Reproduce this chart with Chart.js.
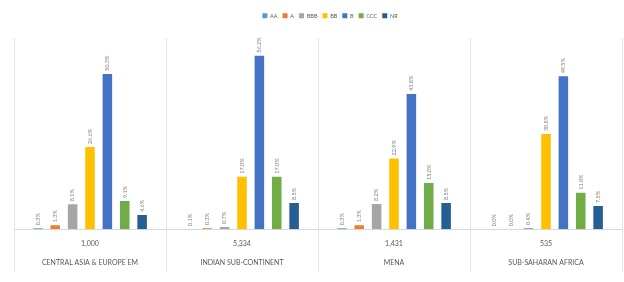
<!DOCTYPE html>
<html>
<head>
<meta charset="utf-8">
<script src="https://cdn.jsdelivr.net/npm/chart.js@4/dist/chart.umd.min.js"></script>
<style>
html,body{margin:0;padding:0;background:#fff;}
#wrap{width:624px;height:282px;position:relative;}
</style>
</head>
<body>
<div id="wrap"><canvas id="c" width="624" height="282"></canvas></div>
<script>
const counts = ['1,000', '5,334', '1,431', '535'];
const regions = ['CENTRAL ASIA & EUROPE EM', 'INDIAN SUB-CONTINENT', 'MENA', 'SUB-SAHARAN AFRICA'];
const ratings = ['AA', 'A', 'BBB', 'BB', 'B', 'CCC', 'NR'];
const colors = ['#5B9BD5', '#ED7D31', '#A5A5A5', '#FFC000', '#4472C4', '#70AD47', '#255E91'];
const seriesAA  = [0.3, 0.1, 0.3, 0.0];
const seriesA   = [1.3, 0.3, 1.3, 0.0];
const seriesBBB = [8.1, 0.7, 8.2, 0.4];
const seriesBB  = [26.6, 17.0, 22.9, 30.8];
const seriesB   = [50.3, 56.2, 43.8, 49.5];
const seriesCCC = [9.1, 17.0, 15.0, 11.8];
const seriesNR  = [4.6, 8.5, 8.5, 7.5];
const allSeries = [seriesAA, seriesA, seriesBBB, seriesBB, seriesB, seriesCCC, seriesNR];

const labels = counts.map((c, i) => [c, regions[i]]);

const legendShift = {
  id: 'legendShift',
  afterLayout(chart) {
    const lg = chart.legend;
    if (lg) { lg.left += 12; lg.right += 12; }
  }
};

const separators = {
  id: 'separators',
  beforeDatasetsDraw(chart) {
    const x = chart.scales.x;
    const ctx = chart.ctx;
    const n = chart.data.labels.length;
    const w = (x.right - x.left) / n;
    ctx.save();
    ctx.strokeStyle = '#e3e3e3';
    ctx.lineWidth = 1;
    for (let i = 0; i <= n; i++) {
      const px = Math.round(x.getPixelForValue(0) - w / 2 + i * w) + 0.5;
      ctx.beginPath();
      ctx.moveTo(px, chart.chartArea.top + 10);
      ctx.lineTo(px, 272);
      ctx.stroke();
    }
    ctx.restore();
  }
};

const valueLabels = {
  id: 'valueLabels',
  afterDatasetsDraw(chart) {
    const ctx = chart.ctx;
    ctx.save();
    ctx.font = '5.5px Lato, "Liberation Sans", sans-serif';
    ctx.fillStyle = '#7f7f7f';
    ctx.textAlign = 'left';
    ctx.textBaseline = 'middle';
    chart.data.datasets.forEach((ds, di) => {
      const meta = chart.getDatasetMeta(di);
      meta.data.forEach((el, i) => {
        const v = ds.data[i];
        ctx.save();
        ctx.translate(el.x, el.y - 3);
        ctx.rotate(-Math.PI / 2);
        ctx.fillText(v.toFixed(1) + '%', 0, 0);
        ctx.restore();
      });
    });
    ctx.restore();
  }
};

new Chart(document.getElementById('c'), {
  type: 'bar',
  data: {
    labels: labels,
    datasets: ratings.map((r, i) => ({
      label: r,
      data: allSeries[i],
      backgroundColor: colors[i],
      borderWidth: 0,
      categoryPercentage: 0.8,
      barPercentage: 0.55
    }))
  },
  options: {
    responsive: false,
    animation: false,
    devicePixelRatio: 1,
    layout: { padding: { left: 14, right: 2, top: 8, bottom: 13 } },
    plugins: {
      legend: {
        position: 'top',
        labels: {
          boxWidth: 5,
          boxHeight: 5,
          padding: 5,
          color: '#595959',
          font: { size: 5.5, family: 'Lato, "Liberation Sans", sans-serif' }
        }
      },
      tooltip: { enabled: false }
    },
    scales: {
      x: {
        grid: { display: false },
        border: { display: true, color: '#d9d9d9' },
        ticks: {
          padding: -3,
          color: '#595959',
          maxRotation: 0,
          autoSkip: false,
          font: { size: 7, family: 'Lato, "Liberation Sans", sans-serif', lineHeight: 2.7 }
        }
      },
      y: {
        display: false,
        min: 0,
        max: 65
      }
    }
  },
  plugins: [legendShift, separators, valueLabels]
});
</script>
</body>
</html>
